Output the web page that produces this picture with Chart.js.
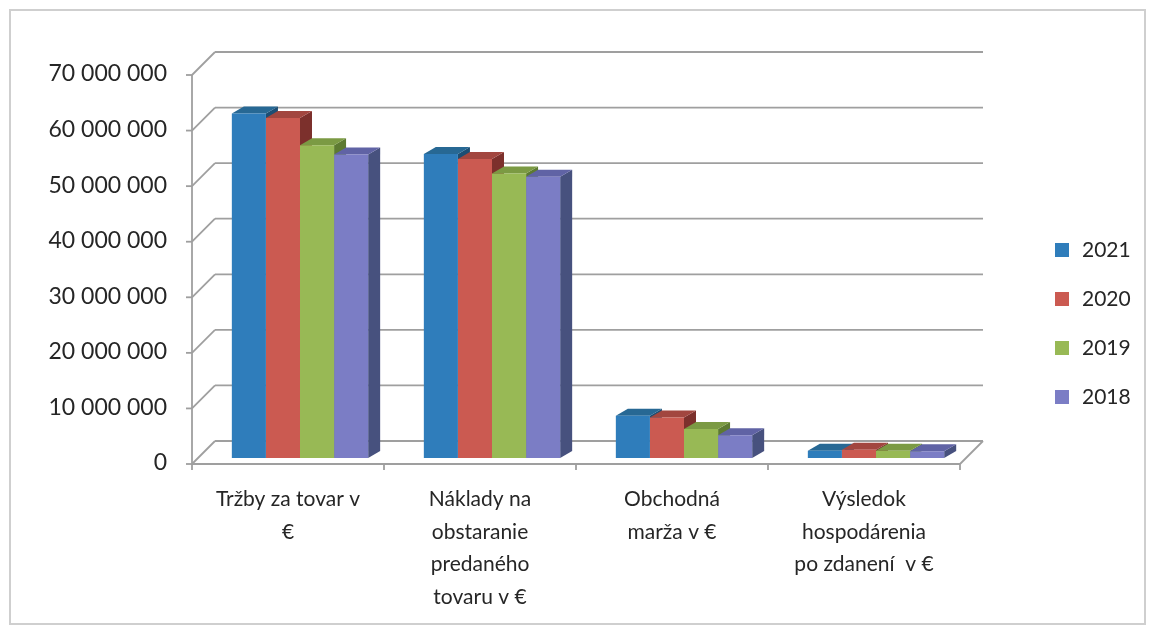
<!DOCTYPE html>
<html>
<head>
<meta charset="utf-8">
<script src="https://cdn.jsdelivr.net/npm/chart.js@4"></script>
<style>
    html, body { margin: 0; padding: 0; background: #fff; }
    #wrap { position: relative; width: 1149px; height: 627px; }
    #frame { position: absolute; left: 9px; top: 9px; width: 1133px; height: 612px; border: 2px solid #cfcfcf; pointer-events: none; }
</style>
</head>
<body>
<div id="wrap">
    <canvas id="chart" width="1149" height="627"></canvas>
    <div id="frame"></div>
</div>
<script>
// categories (x axis labels, one line per array entry)
const categories = [
    ["Tržby za tovar v", "€"],
    ["Náklady na", "obstaranie", "predaného", "tovaru v €"],
    ["Obchodná", "marža v €"],
    ["Výsledok", "hospodárenia", "po zdanení  v €"]
];
const years = ["2021", "2020", "2019", "2018"];

// series values in €
const values2021 = [62000000, 54700000, 7600000, 1300000];
const values2020 = [61200000, 53800000, 7300000, 1500000];
const values2019 = [56300000, 51200000, 5200000, 1300000];
const values2018 = [54600000, 50600000, 4100000, 1200000];

// y axis ticks
const yMin = 0;
const yMax = 70000000;
const yStep = 10000000;

// colours: front, top, side
const palette = [
    ["#2f7dbb", "#276894", "#1c4e74"],
    ["#cb5a51", "#a2463f", "#7c302c"],
    ["#98b955", "#7b9a43", "#5d7a31"],
    ["#7b7dc5", "#6063a5", "#47517e"]
];

const FX = -12, FY = 6;   // front plane offset from bar plane
const BX = 11, BY = -17;  // back wall offset from bar plane
const DX = 12, DY = -7;   // bar depth

function fmt(v) {
    return String(v).replace(/\B(?=(\d{3})+(?!\d))/g, " ");
}

function line(ctx, x1, y1, x2, y2) {
    ctx.beginPath();
    ctx.moveTo(x1, y1);
    ctx.lineTo(x2, y2);
    ctx.stroke();
}

function poly(ctx, pts, fill) {
    ctx.beginPath();
    ctx.moveTo(pts[0][0], pts[0][1]);
    for (let i = 1; i < pts.length; i++) ctx.lineTo(pts[i][0], pts[i][1]);
    ctx.closePath();
    ctx.fillStyle = fill;
    ctx.fill();
}

// walls, floor and 3D faces of bars
const bar3d = {
    id: "bar3d",
    beforeDatasetsDraw(chart) {
        const { ctx, chartArea: a, scales: { y } } = chart;
        const y0 = y.getPixelForValue(yMin);
        const yTop = y.getPixelForValue(yMax);
        ctx.save();
        ctx.strokeStyle = "#9f9f9f";
        ctx.lineWidth = 1.8;

        y.ticks.forEach(t => {
            const py = y.getPixelForValue(t.value);
            line(ctx, a.left + FX - 6, py + FY, a.left + FX, py + FY);
            line(ctx, a.left + FX, py + FY, a.left + BX, py + BY);
            line(ctx, a.left + BX, py + BY, a.right + BX, py + BY);
        });
        line(ctx, a.left + FX, yTop + FY, a.left + FX, y0 + FY);

        // floor
        line(ctx, a.left + FX, y0 + FY, a.right + FX, y0 + FY);
        line(ctx, a.right + FX, y0 + FY, a.right + BX, y0 + BY);
        const step = (a.right - a.left) / categories.length;
        for (let i = 0; i <= categories.length; i++) {
            const px = a.left + FX + i * step;
            line(ctx, px, y0 + FY, px, y0 + FY + 6);
        }

        // top and side faces
        for (let j = 0; j < categories.length; j++) {
            chart.data.datasets.forEach((ds, i) => {
                const bar = chart.getDatasetMeta(i).data[j];
                const p = bar.getProps(["x", "y", "base", "width"], true);
                const l = p.x - p.width / 2, r = p.x + p.width / 2;
                poly(ctx, [[r, p.y], [r + DX, p.y + DY], [r + DX, p.base + DY], [r, p.base]], palette[i][2]);
                poly(ctx, [[l, p.y], [r, p.y], [r + DX, p.y + DY], [l + DX, p.y + DY]], palette[i][1]);
            });
        }
        ctx.restore();
    },
    afterDraw(chart) {
        const { ctx, chartArea: a } = chart;
        ctx.save();
        ctx.font = "21px Lato";
        ctx.textBaseline = "middle";
        chart.data.datasets.forEach((ds, i) => {
            const cy = 250 + i * 49;
            const bx = a.right + 83;
            ctx.fillStyle = palette[i][0];
            ctx.fillRect(bx, cy - 7, 14, 14);
            ctx.fillStyle = "#262626";
            ctx.fillText(ds.label, bx + 27, cy);
        });
        ctx.restore();
    }
};

const seriesValues = [values2021, values2020, values2019, values2018];

new Chart(document.getElementById("chart"), {
    type: "bar",
    data: {
        labels: categories,
        datasets: years.map((yr, i) => ({
            label: yr,
            data: seriesValues[i],
            backgroundColor: palette[i][0],
            borderWidth: 0,
            barPercentage: 1,
            categoryPercentage: 0.71
        }))
    },
    options: {
        responsive: false,
        animation: false,
        layout: { padding: { left: 34, right: 177, top: 69, bottom: 0 } },
        plugins: {
            legend: { display: false },
            tooltip: { enabled: false }
        },
        scales: {
            x: {
                grid: { display: false },
                border: { display: false },
                afterFit: (scale) => { scale.height = 169; },
                ticks: {
                    color: "#262626",
                    font: { family: "Lato", size: 21, lineHeight: 1.55 },
                    padding: 17,
                    labelOffset: -12,
                    maxRotation: 0,
                    autoSkip: false
                }
            },
            y: {
                min: yMin,
                max: yMax,
                grid: { display: false },
                border: { display: false },
                afterFit: (scale) => { scale.width = 170; },
                ticks: {
                    stepSize: yStep,
                    color: "#262626",
                    font: { family: "Lato", size: 23 },
                    padding: 29,
                    labelOffset: 5,
                    callback: (v) => fmt(v)
                }
            }
        }
    },
    plugins: [bar3d]
});
</script>
</body>
</html>
